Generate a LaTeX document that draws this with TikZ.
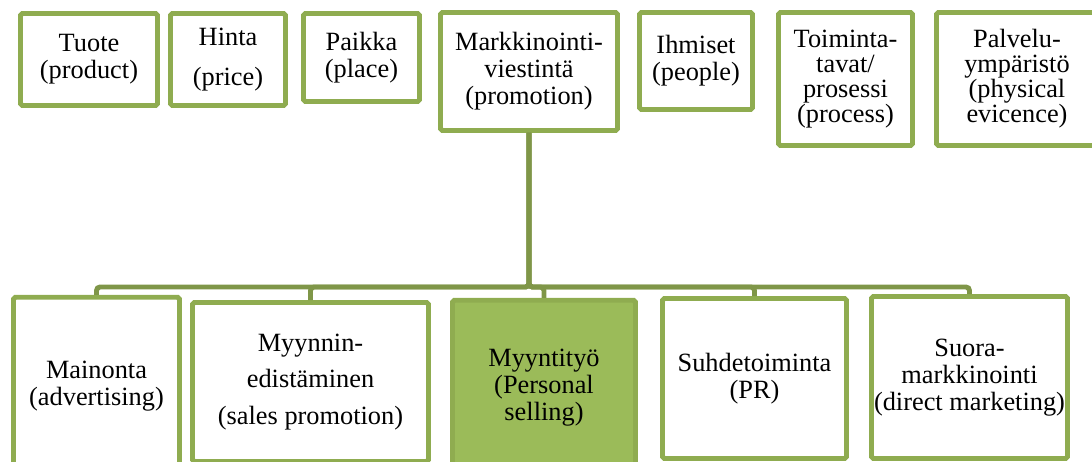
\documentclass[tikz,border=0pt]{standalone}
\usepackage{fontspec}
\setmainfont{Liberation Serif}[Ligatures=TeX]
\usepackage{xcolor}
\usepackage{tikz}
\definecolor{reuna}{HTML}{8FAC50}
\definecolor{viiva}{HTML}{7F9648}
\definecolor{tayte}{HTML}{9BBB59}

\begin{document}
\begin{tikzpicture}[x=0.02cm, y=-0.02cm,
    laatikko/.style={draw=reuna, line width=2.8pt, rounded corners=1pt,
      fill=white, align=center, inner sep=0pt,
      font=\rmfamily\fontsize{15}{15.4}\selectfont},
    tiivis/.style={font=\rmfamily\fontsize{15}{14.2}\selectfont},
    yhteys/.style={draw=viiva, line width=2.8pt, rounded corners=2pt}]
  \useasboundingbox (0,0) rectangle (1092,461);
  % ylarivi
  \node[laatikko, minimum width=2.74cm, minimum height=1.84cm] (tuote) at (89,59.5) {Tuote\\(product)};
  \node[laatikko, minimum width=2.30cm, minimum height=1.84cm] (hinta) at (228,59.5) {Hinta\\[7pt](price)};
  \node[laatikko, minimum width=2.32cm, minimum height=1.76cm] (paikka) at (361.5,57.5) {Paikka\\(place)};
  \node[laatikko, minimum width=3.54cm, minimum height=2.36cm] (promo) at (529,71.5) {Markkinointi-\\viestintä\\(promotion)};
  \node[laatikko, minimum width=2.26cm, minimum height=1.94cm] (ihmiset) at (696,61) {Ihmiset\\(people)};
  \node[laatikko, tiivis, minimum width=2.68cm, minimum height=2.66cm] (prosessi) at (845.5,79) {Toiminta-\\tavat/\\prosessi\\(process)};
  \node[laatikko, tiivis, minimum width=3.22cm, minimum height=2.66cm] (ymparisto) at (1017,79) {Palvelu-\\ympäristö\\(physical\\evicence)};
  % alarivi
  \node[laatikko, minimum width=3.32cm, minimum height=3.55cm] (mainonta) at (96.5,386) {Mainonta\\(advertising)};
  \node[laatikko, minimum width=4.72cm, minimum height=3.18cm] (myynnin) at (310.5,382) {Myynnin-\\[5.5pt]edistäminen\\[5.5pt](sales promotion)};
  \node[laatikko, fill=tayte, minimum width=3.66cm, minimum height=3.49cm] (myyntityo) at (544,387.5) {Myyntityö\\(Personal\\selling)};
  \node[laatikko, minimum width=3.68cm, minimum height=3.20cm] (suhde) at (754.5,378.5) {Suhdetoiminta\\(PR)};
  \node[laatikko, minimum width=3.92cm, minimum height=3.24cm] (suora) at (969.5,377.5) {Suora-\\markkinointi\\(direct marketing)};
  % yhteydet
  \coordinate (vayla) at (0,287);
  \foreach \c in {mainonta, myynnin, myyntityo, suhde, suora}
    \draw[yhteys] (promo.south) -- (promo.south |- vayla) -| (\c.north);
\end{tikzpicture}
\end{document}
